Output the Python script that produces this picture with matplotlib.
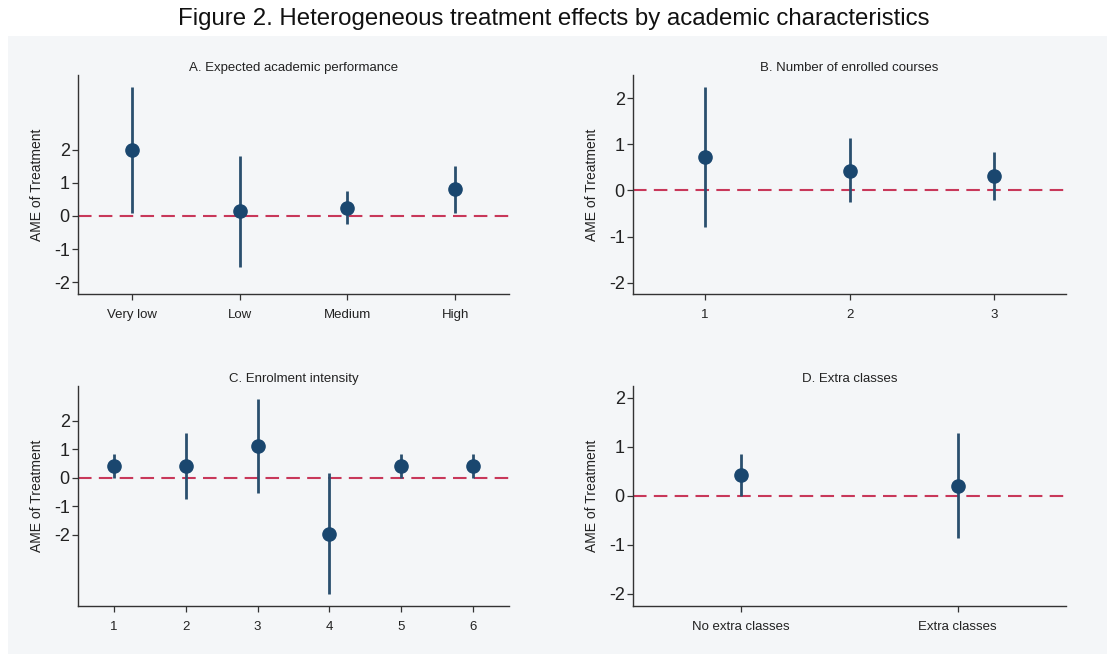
import numpy as np
import matplotlib
matplotlib.use("Agg")
import matplotlib.pyplot as plt
from matplotlib.patches import Rectangle

plt.rcParams['font.family'] = ['Liberation Sans', 'DejaVu Sans']

# panel A: expected academic performance
perf_labels = ["Very low", "Low", "Medium", "High"]
perf_est = [2.0, 0.15, 0.25, 0.82]
perf_lo = [0.08, -1.55, -0.25, 0.10]
perf_hi = [3.90, 1.80, 0.75, 1.52]

# panel B: number of enrolled courses
course_labels = ["1", "2", "3"]
course_est = [0.73, 0.43, 0.31]
course_lo = [-0.79, -0.26, -0.21]
course_hi = [2.25, 1.13, 0.84]

# panel C: enrolment intensity
inten_labels = ["1", "2", "3", "4", "5", "6"]
inten_est = [0.40, 0.40, 1.12, -1.96, 0.40, 0.40]
inten_lo = [0.0, -0.76, -0.52, -4.08, 0.0, 0.0]
inten_hi = [0.85, 1.58, 2.78, 0.15, 0.85, 0.85]

# panel D: extra classes
extra_labels = ["No extra classes", "Extra classes"]
extra_est = [0.43, 0.20]
extra_lo = [0.0, -0.87]
extra_hi = [0.86, 1.28]

BG = '#f4f6f8'
NAVY = '#1a476f'
BAR = '#2a4f6e'
RED = '#c8385a'
SPINE = '#333333'

W, H = 1107, 654
fig = plt.figure(figsize=(W / 100, H / 100), dpi=100)
fig.patch.set_facecolor('white')
fig.patches.append(Rectangle((8 / W, 0), 1 - 8 / W, 1 - 36 / H, transform=fig.transFigure,
                             facecolor=BG, edgecolor='none', zorder=-10))

fig.text(0.5, 1 - 19 / H, "Figure 2. Heterogeneous treatment effects by academic characteristics",
         ha='center', va='center', fontsize=17.3, color='#111111')


def panel(rect, title, labels, est, lo, hi, ylim, yticks, xfs=9.5):
    ax = fig.add_axes(rect)
    ax.set_facecolor(BG)
    x = np.arange(1, len(labels) + 1)
    ax.axhline(0, color=RED, lw=1.5, dashes=(6.5, 3.5), zorder=1)
    ax.vlines(x, lo, hi, color=BAR, lw=2.0, zorder=2)
    ax.plot(x, est, 'o', color=NAVY, ms=9.5, zorder=3)
    ax.set_xlim(0.5, len(labels) + 0.5)
    ax.set_ylim(*ylim)
    ax.set_xticks(x)
    ax.set_xticklabels(labels, fontsize=xfs, color='#222222')
    ax.set_yticks(yticks)
    ax.set_yticklabels([str(t) for t in yticks], fontsize=13, color='#222222')
    ax.set_ylabel("AME of Treatment", fontsize=10, color='#222222', labelpad=7)
    ax.set_title(title, fontsize=9.5, color='#222222', pad=3)
    for s in ['top', 'right']:
        ax.spines[s].set_visible(False)
    for s in ['left', 'bottom']:
        ax.spines[s].set_color(SPINE)
        ax.spines[s].set_linewidth(1.0)
    ax.tick_params(axis='both', direction='out', length=4, width=0.9, color=SPINE)
    ax.tick_params(axis='x', pad=7)
    ax.tick_params(axis='y', pad=2)
    return ax


panel([0.0705, 0.5505, 0.3893, 0.3349], "A. Expected academic performance",
      perf_labels, perf_est, perf_lo, perf_hi, (-2.35, 4.25), [-2, -1, 0, 1, 2])
panel([0.5718, 0.5505, 0.3912, 0.3349], "B. Number of enrolled courses",
      course_labels, course_est, course_lo, course_hi, (-2.24, 2.5), [-2, -1, 0, 1, 2])
panel([0.0705, 0.0739, 0.3893, 0.3359], "C. Enrolment intensity",
      inten_labels, inten_est, inten_lo, inten_hi, (-4.49, 3.22), [-2, -1, 0, 1, 2])
panel([0.5718, 0.0739, 0.3912, 0.3359], "D. Extra classes",
      extra_labels, extra_est, extra_lo, extra_hi, (-2.24, 2.24), [-2, -1, 0, 1, 2])

fig.savefig("out.png", dpi=100, facecolor=fig.get_facecolor())
